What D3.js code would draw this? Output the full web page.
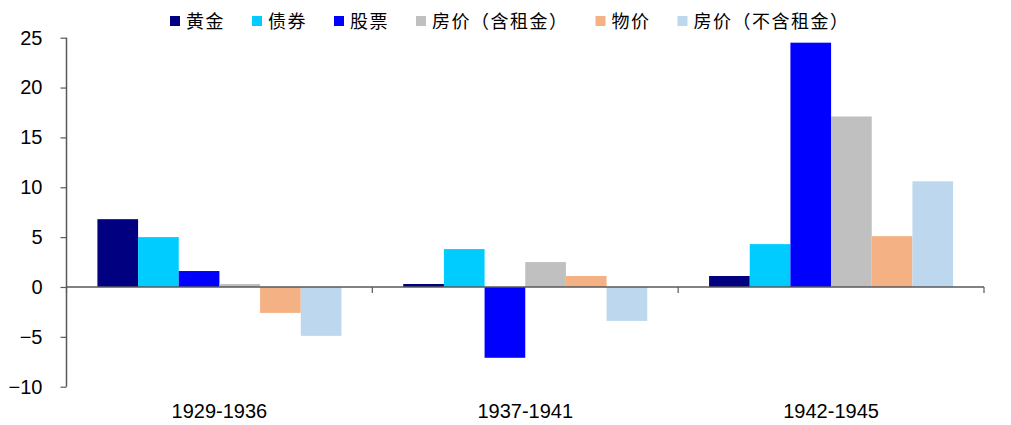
<!DOCTYPE html>
<html>
<head>
<meta charset="utf-8">
<script src="https://cdn.jsdelivr.net/npm/d3@7"></script>
<style>
  html, body { margin: 0; padding: 0; background: #fff; }
  svg { display: block; }
</style>
</head>
<body>
<svg id="chart" width="1011" height="425"></svg>
<script>
// Periods along the x axis
const periods = ["1929-1936", "1937-1941", "1942-1945"];
// Asset classes (one bar each per period)
const seriesNames = ["黄金", "债券", "股票", "房价（含租金）", "物价", "房价（不含租金）"];
const seriesColors = ["#000080", "#00CCFF", "#0000FF", "#C0C0C0", "#F4B183", "#BDD7EE"];
// Values per series, aligned with periods
const gold       = [6.8, 0.3, 1.1];
const bonds      = [5.0, 3.8, 4.3];
const stocks     = [1.6, -7.1, 24.5];
const houseRent  = [0.3, 2.5, 17.1];
const prices     = [-2.6, 1.1, 5.1];
const houseNoRent= [-4.9, -3.4, 10.6];
const seriesValues = [gold, bonds, stocks, houseRent, prices, houseNoRent];
// Y axis ticks
const yTicks = [-10, -5, 0, 5, 10, 15, 20, 25];

const svg = d3.select("#chart");
const plot = { left: 66.5, right: 984, top: 37.7, bottom: 386.7 };

const x0 = d3.scaleBand().domain(periods).range([plot.left, plot.right]).padding(0);
const x1 = d3.scaleBand().domain(d3.range(seriesNames.length))
  .range([0, x0.bandwidth()]).paddingInner(0).paddingOuter(0.76);
const y = d3.scaleLinear().domain([-10, 25]).range([plot.bottom, plot.top]);

// Bars
const groups = svg.append("g").selectAll("g")
  .data(periods).join("g")
  .attr("transform", d => `translate(${x0(d)},0)`);

groups.selectAll("rect")
  .data((p, i) => seriesValues.map((vals, s) => ({ s, v: vals[i] })))
  .join("rect")
  .attr("x", d => x1(d.s))
  .attr("width", x1.bandwidth())
  .attr("y", d => y(Math.max(0, d.v)))
  .attr("height", d => Math.abs(y(d.v) - y(0)))
  .attr("fill", d => seriesColors[d.s]);

const axisColor = "#595959";

// Y axis
const yAxis = svg.append("g")
  .attr("transform", `translate(${plot.left},0)`)
  .call(d3.axisLeft(y).tickValues(yTicks).tickSize(6).tickPadding(18).tickFormat(d3.format("d")));
yAxis.select(".domain").attr("stroke", axisColor).attr("stroke-width", 1.5).attr("d", `M0,${plot.top}V${plot.bottom}`);
yAxis.selectAll(".tick line").attr("stroke", axisColor).attr("stroke-width", 1.2);
yAxis.selectAll(".tick text")
  .attr("fill", "#000")
  .style("font-family", "'Liberation Sans', Arial, sans-serif")
  .style("font-size", "20px");

// Zero line with category boundary ticks
const xAxis = svg.append("g").attr("transform", `translate(0,${y(0)})`);
xAxis.append("line")
  .attr("x1", plot.left).attr("x2", plot.right)
  .attr("stroke", axisColor).attr("stroke-width", 1.5);
const boundaries = periods.map(p => x0(p)).concat([x0(periods[periods.length - 1]) + x0.bandwidth()]);
xAxis.selectAll("line.bt").data(boundaries).join("line")
  .attr("class", "bt")
  .attr("x1", d => d).attr("x2", d => d)
  .attr("y1", 0).attr("y2", 6)
  .attr("stroke", axisColor).attr("stroke-width", 1.2);

// Category labels
svg.append("g").selectAll("text").data(periods).join("text")
  .attr("x", d => x0(d) + x0.bandwidth() / 2)
  .attr("y", 418)
  .attr("text-anchor", "middle")
  .style("font-family", "'Liberation Sans', Arial, sans-serif")
  .style("font-size", "20px")
  .attr("fill", "#000")
  .text(d => d);

// Legend
const legend = svg.append("g").attr("transform", "translate(170,0)");
let lx = 0;
seriesNames.forEach((name, i) => {
  const g = legend.append("g").attr("transform", `translate(${lx},0)`);
  g.append("rect").attr("x", 0).attr("y", 16).attr("width", 10).attr("height", 10)
    .attr("fill", seriesColors[i]);
  const t = g.append("text")
    .attr("x", 16).attr("y", 28)
    .style("font-family", "'Noto Sans CJK SC', sans-serif")
    .style("font-size", "18px")
    .style("letter-spacing", "1.5px")
    .attr("fill", "#000")
    .text(name);
  const w = t.node().getComputedTextLength();
  lx += 16 + w + 27;
});
</script>
</body>
</html>
